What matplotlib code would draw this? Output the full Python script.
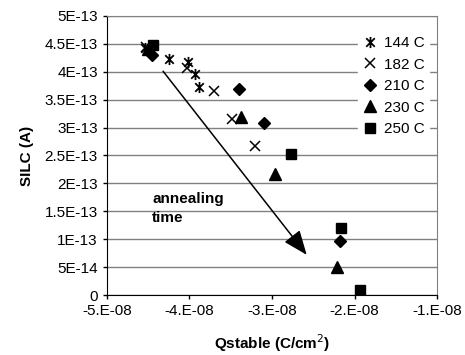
import numpy as np
import matplotlib
matplotlib.use('Agg')
import matplotlib.pyplot as plt
from matplotlib.path import Path

plt.rcParams['font.family'] = ['Liberation Sans', 'DejaVu Sans']

# Qstable (C/cm^2) and SILC (A) per anneal temperature
q_144 = [-4.54e-8, -4.25e-8, -4.02e-8, -3.93e-8, -3.89e-8]
silc_144 = [4.43e-13, 4.23e-13, 4.18e-13, 3.96e-13, 3.73e-13]

q_182 = [-4.53e-8, -4.03e-8, -3.70e-8, -3.48e-8, -3.21e-8]
silc_182 = [4.44e-13, 4.07e-13, 3.66e-13, 3.15e-13, 2.67e-13]

q_210 = [-4.45e-8, -3.40e-8, -3.10e-8, -2.18e-8]
silc_210 = [4.30e-13, 3.69e-13, 3.08e-13, 0.97e-13]

q_230 = [-4.50e-8, -3.38e-8, -2.96e-8, -2.21e-8]
silc_230 = [4.41e-13, 3.19e-13, 2.17e-13, 0.50e-13]

q_250 = [-4.44e-8, -2.77e-8, -2.16e-8, -1.93e-8]
silc_250 = [4.48e-13, 2.53e-13, 1.20e-13, 0.09e-13]

labels = ['144 C', '182 C', '210 C', '230 C', '250 C']

xticks = [-5e-8, -4e-8, -3e-8, -2e-8, -1e-8]
xticklabels = ['-5.E-08', '-4.E-08', '-3.E-08', '-2.E-08', '-1.E-08']
yticks = [0, 5e-14, 1e-13, 1.5e-13, 2e-13, 2.5e-13, 3e-13, 3.5e-13,
          4e-13, 4.5e-13, 5e-13]
yticklabels = ['0', '5E-14', '1E-13', '1.5E-13', '2E-13', '2.5E-13',
               '3E-13', '3.5E-13', '4E-13', '4.5E-13', '5E-13']

# Excel-style star: an x with a vertical bar
star = Path([(-1, -1), (1, 1), (-1, 1), (1, -1), (0, -1.3), (0, 1.3)],
            [Path.MOVETO, Path.LINETO, Path.MOVETO, Path.LINETO,
             Path.MOVETO, Path.LINETO])

fs = 11

fig = plt.figure(figsize=(4.65, 3.55), dpi=100)
ax = fig.add_axes([0.230, 0.169, 0.710, 0.786])

ax.plot(q_144, silc_144, ls='none', marker=star, ms=8, mew=1.3,
        color='black', label=labels[0])
ax.plot(q_182, silc_182, ls='none', marker='x', ms=7, mew=1.1,
        color='black', label=labels[1])
ax.plot(q_210, silc_210, ls='none', marker='D', ms=6, color='black',
        label=labels[2])
ax.plot(q_230, silc_230, ls='none', marker='^', ms=8, color='black',
        label=labels[3])
ax.plot(q_250, silc_250, ls='none', marker='s', ms=6.5, color='black',
        label=labels[4])

# annealing arrow
ax.annotate('', xy=(-2.58e-8, 0.72e-13), xytext=(-4.32e-8, 4.01e-13),
            arrowprops=dict(arrowstyle='-|>,head_length=1.5,head_width=0.6',
                            color='black', lw=1.1, shrinkA=0, shrinkB=0))
ax.text(-4.45e-8, 1.85e-13, 'annealing\ntime', fontsize=fs,
        fontweight='bold', va='top', ha='left', linespacing=1.45)

ax.set_xlim(-5e-8, -1e-8)
ax.set_ylim(0, 5e-13)
ax.set_xticks(xticks)
ax.set_xticklabels(xticklabels)
ax.set_yticks(yticks)
ax.set_yticklabels(yticklabels)
ax.tick_params(labelsize=fs, length=3, width=1, direction='out')
ax.yaxis.grid(True, color='#808080', lw=1)
ax.set_axisbelow(True)
ax.spines['top'].set_color('#808080')
ax.spines['right'].set_color('#808080')

ax.set_xlabel('Qstable (C/cm$^2$)', fontsize=fs, fontweight='bold',
              labelpad=10)
ax.set_ylabel('SILC (A)', fontsize=fs, fontweight='bold', labelpad=8)

leg = ax.legend(loc='upper right', bbox_to_anchor=(0.975, 0.945),
                frameon=True, fontsize=fs, handletextpad=0.4,
                borderpad=0.3, labelspacing=0.5, handlelength=1.0,
                borderaxespad=0)
leg.get_frame().set_facecolor('white')
leg.get_frame().set_edgecolor('white')
leg.get_frame().set_alpha(1)

plt.savefig('out.png', dpi=100)
